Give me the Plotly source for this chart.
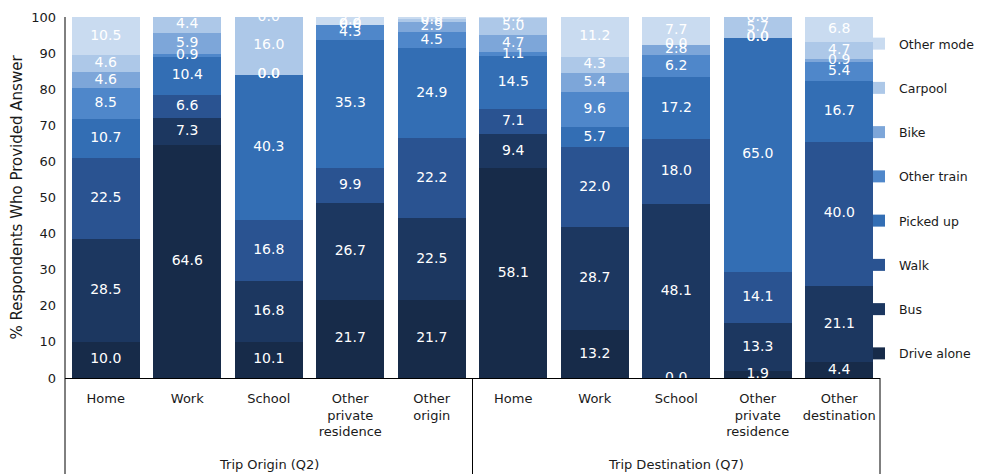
import plotly.graph_objects as go

categories = ["Home", "Work", "School", "Other<br>private<br>residence", "Other<br>origin",
              "Home", "Work", "School", "Other<br>private<br>residence", "Other<br>destination"]
groups = ["Trip Origin (Q2)", "Trip Destination (Q7)"]

drive_alone = [10.0, 64.6, 10.1, 21.7, 21.7, 58.1, 13.2, 0.0, 1.9, 4.4]
bus         = [28.5, 7.3, 16.8, 26.7, 22.5, 9.4, 28.7, 48.1, 13.3, 21.1]
walk        = [22.5, 6.6, 16.8, 9.9, 22.2, 7.1, 22.0, 18.0, 14.1, 40.0]
picked_up   = [10.7, 10.4, 40.3, 35.3, 24.9, 14.5, 5.7, 17.2, 65.0, 16.7]
other_train = [8.5, 0.9, 0.0, 4.3, 4.5, 1.1, 9.6, 6.2, 0.0, 5.4]
bike        = [4.6, 5.9, 0.0, 0.0, 2.9, 4.7, 5.4, 2.8, 0.0, 0.9]
carpool     = [4.6, 4.4, 16.0, 0.0, 0.8, 5.0, 4.3, 0.0, 5.7, 4.7]
other_mode  = [10.5, 0.0, 0.0, 2.2, 0.6, 0.2, 11.2, 7.7, 0.0, 6.8]

series = [
    ("Drive alone", drive_alone, "#172B49"),
    ("Bus", bus, "#1C3760"),
    ("Walk", walk, "#2A5391"),
    ("Picked up", picked_up, "#336EB4"),
    ("Other train", other_train, "#4F87CA"),
    ("Bike", bike, "#7DA6D9"),
    ("Carpool", carpool, "#ADC8E8"),
    ("Other mode", other_mode, "#C9DBF0"),
]

FONT = "DejaVu Sans"
xs = list(range(len(categories)))

fig = go.Figure()
base = [0.0] * len(categories)
label_traces = []
n = len(series)
for i, (name, vals, color) in enumerate(series):
    fig.add_trace(go.Bar(
        x=xs, y=vals, name=name, legendgroup=name, legendrank=n - i,
        marker=dict(color=color, line=dict(width=0)),
    ))
    mids = [b + v / 2 for b, v in zip(base, vals)]
    label_traces.append(go.Scatter(
        x=xs, y=mids, mode="text", text=[f"{v:.1f}" for v in vals],
        textfont=dict(color="white", size=14, family=FONT),
        showlegend=False, hoverinfo="skip", cliponaxis=False,
    ))
    base = [b + v for b, v in zip(base, vals)]

for t in label_traces:
    fig.add_trace(t)

# page body has an 8px margin, so the figure is sized/offset to compensate
plot_h = 361
bottom = -(474 - 378) / plot_h

shapes = [
    dict(type="line", xref="paper", yref="paper", x0=0, x1=0, y0=bottom, y1=1,
         line=dict(color="black", width=1)),
    dict(type="line", xref="paper", yref="paper", x0=0.5, x1=0.5, y0=bottom, y1=0,
         line=dict(color="black", width=1)),
    dict(type="line", xref="paper", yref="paper", x0=1, x1=1, y0=bottom, y1=0,
         line=dict(color="black", width=1)),
]

annotations = [
    dict(text=groups[0], x=2, xref="x", y=-(465 - 378) / plot_h, yref="paper",
         yanchor="middle", showarrow=False, font=dict(size=13, family=FONT, color="#1a1a1a")),
    dict(text=groups[1], x=7, xref="x", y=-(465 - 378) / plot_h, yref="paper",
         yanchor="middle", showarrow=False, font=dict(size=13, family=FONT, color="#1a1a1a")),
]

fig.update_layout(
    width=976, height=466,
    margin=dict(l=57, r=104, t=9, b=96, autoexpand=False),
    barmode="stack", bargap=0.166,
    plot_bgcolor="white", paper_bgcolor="white",
    font=dict(family=FONT, size=13, color="#1a1a1a"),
    showlegend=True,
    legend=dict(x=(859 - 65) / 815, xanchor="left", y=1 - 12 / plot_h, yanchor="top",
                traceorder="grouped", tracegroupgap=25,
                font=dict(size=12.5, family=FONT, color="#1a1a1a"),
                itemwidth=30, bgcolor="rgba(0,0,0,0)"),
    shapes=shapes, annotations=annotations,
)
fig.update_xaxes(
    range=[-0.5, 9.5], tickvals=xs, ticktext=categories, ticks="",
    showline=True, linecolor="black", linewidth=1, showgrid=False, zeroline=False,
    tickfont=dict(size=13, family=FONT, color="#1a1a1a"), tickangle=0,
    ticklabelstandoff=8, automargin=False,
)
fig.update_yaxes(
    range=[0, 100], dtick=10, ticks="", showline=False, showgrid=False, zeroline=False,
    tickfont=dict(size=13, family=FONT, color="#1a1a1a"), ticklabelstandoff=8,
    title=dict(text="% Respondents Who Provided Answer", font=dict(size=15, family=FONT, color="#1a1a1a"),
               standoff=6),
    automargin=False,
)
fig.write_html("out.html")
